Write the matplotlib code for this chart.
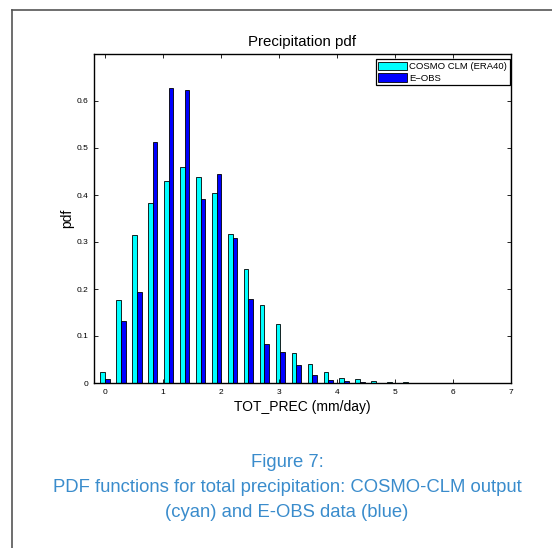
import numpy as np
import matplotlib
matplotlib.use("Agg")
import matplotlib.pyplot as plt
from matplotlib.lines import Line2D

plt.rcParams['font.family'] = ['Liberation Sans', 'DejaVu Sans']

# Datos
bin_step = 0.275
cosmo = [0.024, 0.177, 0.314, 0.382, 0.430, 0.460, 0.438, 0.405, 0.318,
         0.243, 0.167, 0.126, 0.063, 0.040, 0.023, 0.011, 0.008, 0.004,
         0.003, 0.002, 0.001, 0.001, 0.001, 0.001, 0.0005]
eobs = [0.008, 0.131, 0.193, 0.512, 0.628, 0.623, 0.392, 0.445, 0.309,
        0.179, 0.082, 0.065, 0.039, 0.016, 0.006, 0.005, 0.002, 0.001,
        0.001, 0.001, 0.0005, 0.0005, 0.0005, 0.0005, 0.0002]
centers = np.arange(len(cosmo)) * bin_step
labels = ["COSMO CLM (ERA40)", "E\u2212OBS"]
caption = ["Figure 7:",
           "PDF functions for total precipitation: COSMO-CLM output",
           "(cyan) and E-OBS data (blue)"]

fig = plt.figure(figsize=(5.52, 5.48), dpi=100)
ax = fig.add_axes([94/552, 1-383/548, (510.7-94)/552, (383-54)/548])

w = 0.08
ax.bar(centers - w/2, cosmo, w, color=(0, 1, 1), edgecolor="k", linewidth=0.6, label=labels[0])
ax.bar(centers + w/2, eobs, w, color=(0, 0, 1), edgecolor="k", linewidth=0.6, label=labels[1])

ax.set_xlim(-0.19, 7); ax.set_xticks(np.arange(0, 8, 1))
ax.set_ylim(0, 0.7); ax.set_yticks(np.arange(0, 0.61, 0.1))
ax.set_yticklabels(["0", "0.1", "0.2", "0.3", "0.4", "0.5", "0.6"])
ax.tick_params(direction="in", top=True, right=True, labelsize=6, length=3, width=0.6, pad=4)
for s in ax.spines.values():
    s.set_linewidth(1.0)
ax.set_title("Precipitation pdf", fontsize=10.8, pad=6)
ax.set_xlabel("TOT_PREC (mm/day)", fontsize=10, labelpad=3)
ax.set_ylabel("pdf", fontsize=10, labelpad=2)

leg = ax.legend(loc="upper right", bbox_to_anchor=(0.998, 0.985), fontsize=6.8,
                fancybox=False, edgecolor="k", framealpha=1, handlelength=3.0,
                handleheight=1.0, borderpad=0.3, labelspacing=0.2, handletextpad=0.25,
                borderaxespad=0)
leg.get_frame().set_linewidth(0.9)

# marco de la pagina
fig.add_artist(Line2D([11.5/552, 11.5/552], [0, 1-10/548], color="#555555", linewidth=1.2))
fig.add_artist(Line2D([11.5/552, 1], [1-10/548, 1-10/548], color="#555555", linewidth=1.2))

# pie de figura
azul = "#3a8ccc"
for i, txt in enumerate(caption):
    fig.text(287/552, 1-(462.5+25*i)/548, txt, ha="center", va="center", fontsize=13.3, color=azul)

fig.savefig("out.png", dpi=100)
